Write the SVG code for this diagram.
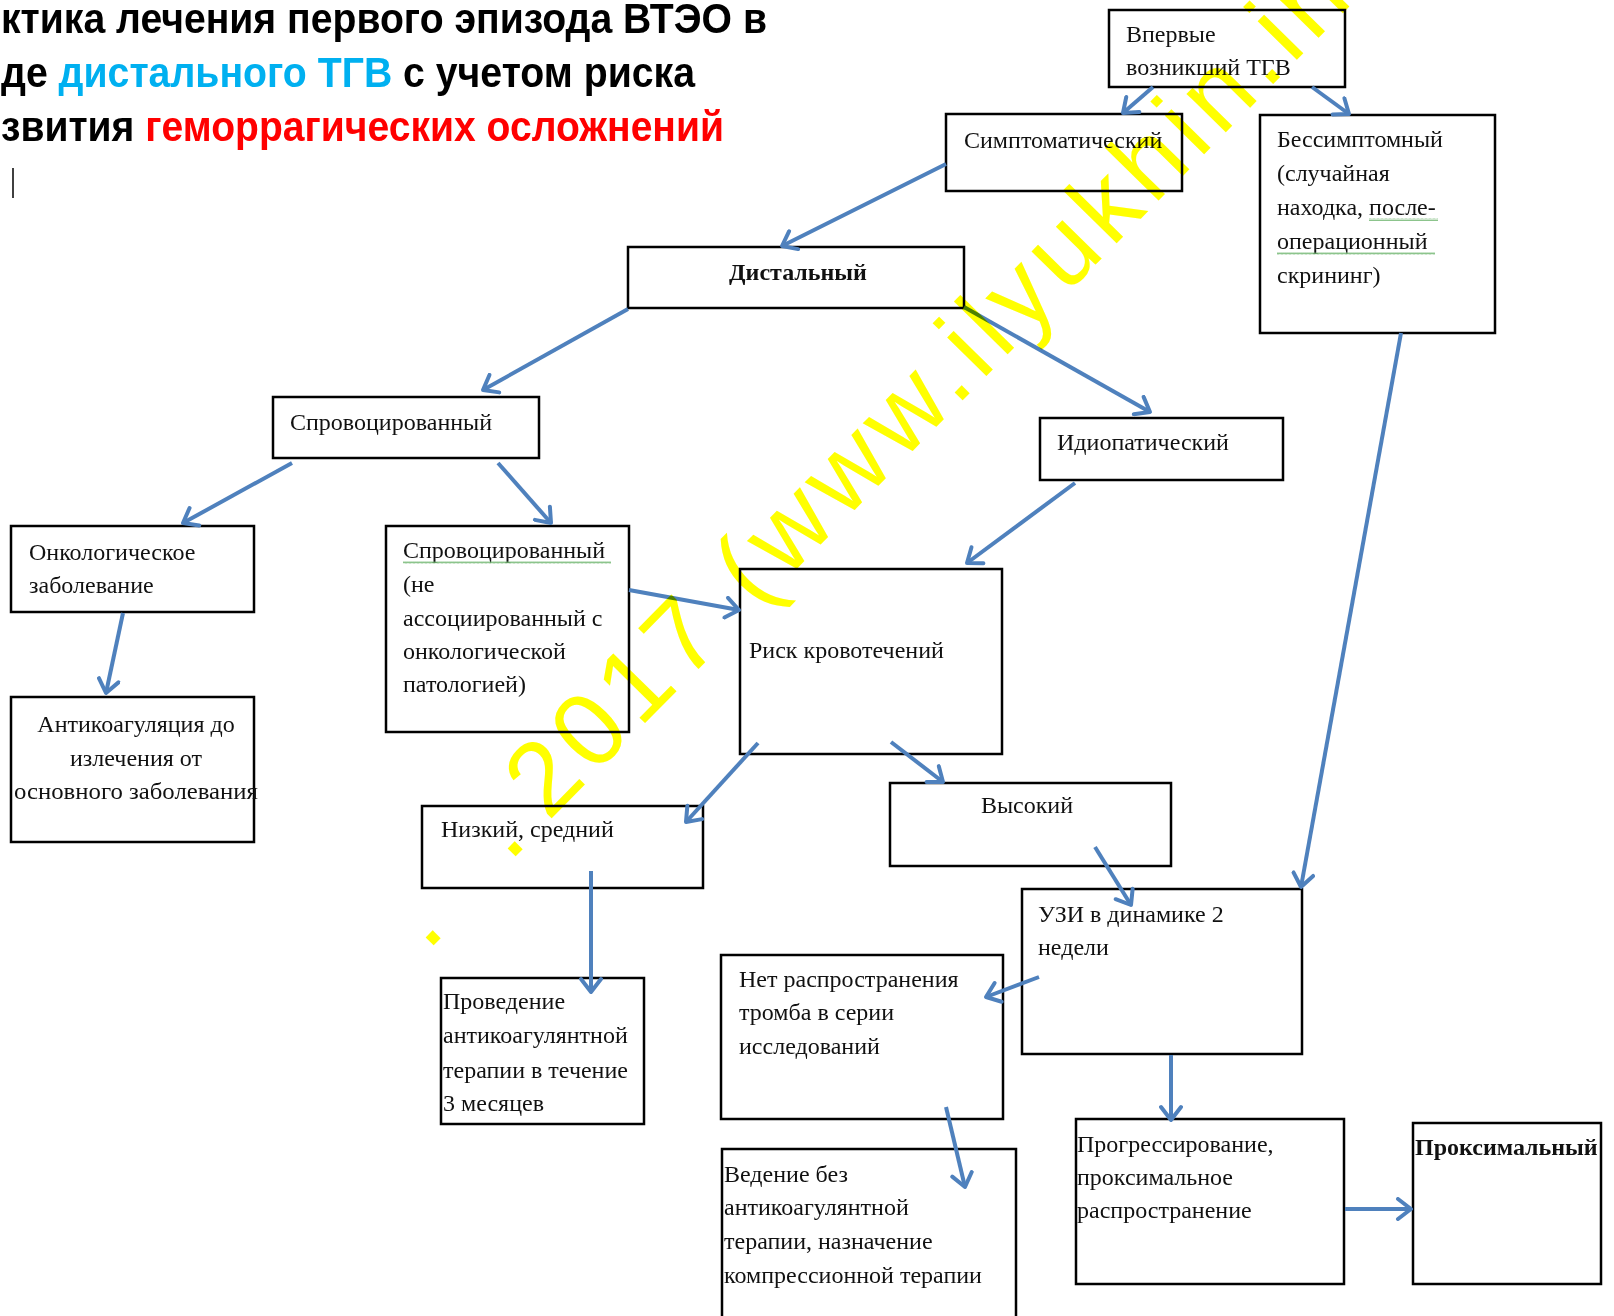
<svg xmlns="http://www.w3.org/2000/svg" width="1614" height="1316" viewBox="0 0 1614 1316">
<style>
.box{fill:#fff;stroke:#000;stroke-width:2.5}
.t{font-family:"Liberation Serif",serif;font-size:24px;fill:#111}
.b{font-weight:bold}
.c{text-anchor:middle}
.ar{stroke:#4f81bd;stroke-width:4;fill:none;marker-end:url(#ah)}
.title{font-family:"Liberation Sans",Arial,sans-serif;font-weight:bold;font-size:43px;fill:#000}
.wm{font-family:"Liberation Sans",Arial,sans-serif;fill:#ffff00;mix-blend-mode:multiply}
.sq{fill:url(#wavy)}
</style>
<defs>
<marker id="ah" markerUnits="userSpaceOnUse" markerWidth="20" markerHeight="24" viewBox="-16 -12 20 24" refX="0" refY="0" orient="auto">
<path d="M-13,-10 L0,0 L-13,10" fill="none" stroke="#4f81bd" stroke-width="4" stroke-linecap="round" stroke-linejoin="round"/>
</marker>
<pattern id="wavy" width="4" height="3" patternUnits="userSpaceOnUse">
<path d="M0,2.5 L1,0.5 L2,2.5 L3,0.5 L4,2.5" fill="none" stroke="#6fb56f" stroke-width="0.8"/>
</pattern>
</defs>
<rect width="1614" height="1316" fill="#fff"/>

<g id="title">
<text class="title" x="1" y="33" textLength="766" lengthAdjust="spacingAndGlyphs">ктика лечения первого эпизода ВТЭО в</text>
<text class="title" x="1" y="87" textLength="694" lengthAdjust="spacingAndGlyphs">де <tspan fill="#00b0f0">дистального ТГВ</tspan> с учетом риска</text>
<text class="title" x="1" y="141" textLength="723" lengthAdjust="spacingAndGlyphs">звития <tspan fill="#ff0000">геморрагических осложнений</tspan></text>
<line x1="13" y1="168" x2="13" y2="198" stroke="#000" stroke-width="1.5"/>
</g>

<g id="n-first">
<rect class="box" x="1109" y="10" width="236" height="77"/>
<text class="t" x="1126" y="42">Впервые</text>
<text class="t" x="1126" y="75">возникший ТГВ</text>
</g>
<g id="n-symptomatic">
<rect class="box" x="946" y="114" width="236" height="77"/>
<text class="t" x="964" y="148">Симптоматический</text>
</g>
<g id="n-asymptomatic">
<rect class="box" x="1260" y="115" width="235" height="218"/>
<text class="t" x="1277" y="147">Бессимптомный</text>
<text class="t" x="1277" y="181">(случайная</text>
<text class="t" x="1277" y="215">находка, после-</text>
<text class="t" x="1277" y="249">операционный</text>
<text class="t" x="1277" y="283">скрининг)</text>
<rect class="sq" x="1369" y="218" width="69" height="3"/>
<rect class="sq" x="1277" y="252" width="158" height="3"/>
</g>
<g id="n-distal">
<rect class="box" x="628" y="247" width="336" height="61"/>
<text class="t b c" x="798" y="280">Дистальный</text>
</g>
<g id="n-provoked">
<rect class="box" x="273" y="397" width="266" height="61"/>
<text class="t" x="290" y="430">Спровоцированный</text>
</g>
<g id="n-idiopathic">
<rect class="box" x="1040" y="418" width="243" height="62"/>
<text class="t" x="1057" y="450">Идиопатический</text>
</g>
<g id="n-oncology">
<rect class="box" x="11" y="526" width="243" height="86"/>
<text class="t" x="29" y="560">Онкологическое</text>
<text class="t" x="29" y="593">заболевание</text>
</g>
<g id="n-provoked-nononc">
<rect class="box" x="386" y="526" width="243" height="206"/>
<text class="t" x="403" y="558">Спровоцированный</text>
<text class="t" x="403" y="592">(не</text>
<text class="t" x="403" y="626">ассоциированный с</text>
<text class="t" x="403" y="659">онкологической</text>
<text class="t" x="403" y="692">патологией)</text>
<rect class="sq" x="403" y="561" width="208" height="3"/>
</g>
<g id="n-bleeding-risk">
<rect class="box" x="740" y="569" width="262" height="185"/>
<text class="t" x="749" y="658">Риск кровотечений</text>
</g>
<g id="n-anticoag-cure">
<rect class="box" x="11" y="697" width="243" height="145"/>
<text class="t c" x="136" y="732">Антикоагуляция до</text>
<text class="t c" x="136" y="766">излечения от</text>
<text class="t c" x="136" y="799" textLength="244" lengthAdjust="spacingAndGlyphs">основного заболевания</text>
</g>
<g id="n-low">
<rect class="box" x="422" y="806" width="281" height="82"/>
<text class="t" x="441" y="837">Низкий, средний</text>
</g>
<g id="n-high">
<rect class="box" x="890" y="783" width="281" height="83"/>
<text class="t c" x="1027" y="813">Высокий</text>
</g>
<g id="n-us">
<rect class="box" x="1022" y="889" width="280" height="165"/>
<text class="t" x="1038" y="922">УЗИ в динамике 2</text>
<text class="t" x="1038" y="955">недели</text>
</g>
<g id="n-no-spread">
<rect class="box" x="721" y="955" width="282" height="164"/>
<text class="t" x="739" y="987">Нет распространения</text>
<text class="t" x="739" y="1020">тромба в серии</text>
<text class="t" x="739" y="1054">исследований</text>
</g>
<g id="n-3months">
<rect class="box" x="441" y="978" width="203" height="146"/>
<text class="t" x="443" y="1009">Проведение</text>
<text class="t" x="443" y="1043">антикоагулянтной</text>
<text class="t" x="443" y="1078">терапии в течение</text>
<text class="t" x="443" y="1111">3 месяцев</text>
</g>
<g id="n-no-anticoag">
<rect class="box" x="722" y="1149" width="294" height="180"/>
<text class="t" x="724" y="1182">Ведение без</text>
<text class="t" x="724" y="1215">антикоагулянтной</text>
<text class="t" x="724" y="1249">терапии, назначение</text>
<text class="t" x="724" y="1283">компрессионной терапии</text>
</g>
<g id="n-progression">
<rect class="box" x="1076" y="1119" width="268" height="165"/>
<text class="t" x="1077" y="1152">Прогрессирование,</text>
<text class="t" x="1077" y="1185">проксимальное</text>
<text class="t" x="1077" y="1218">распространение</text>
</g>
<g id="n-proximal">
<rect class="box" x="1413" y="1123" width="188" height="161"/>
<text class="t b" x="1415" y="1155">Проксимальный</text>
</g>

<g id="connectors">
<line class="ar" x1="1153" y1="87" x2="1123" y2="113"/>
<line class="ar" x1="1312" y1="87" x2="1349" y2="114"/>
<line class="ar" x1="946" y1="164" x2="782" y2="246"/>
<line class="ar" x1="628" y1="309" x2="483" y2="390"/>
<line class="ar" x1="964" y1="307" x2="1150" y2="412"/>
<line class="ar" x1="292" y1="463" x2="183" y2="523"/>
<line class="ar" x1="498" y1="463" x2="551" y2="523"/>
<line class="ar" x1="123" y1="613" x2="106" y2="693"/>
<line class="ar" x1="629" y1="590" x2="739" y2="610"/>
<line class="ar" x1="1075" y1="483" x2="967" y2="563"/>
<line class="ar" x1="758" y1="743" x2="686" y2="822"/>
<line class="ar" x1="891" y1="742" x2="943" y2="782"/>
<line class="ar" x1="1095" y1="847" x2="1131" y2="905"/>
<line class="ar" x1="1401" y1="333" x2="1301" y2="887"/>
<line class="ar" x1="591" y1="871" x2="591" y2="992"/>
<line class="ar" x1="1039" y1="977" x2="986" y2="997"/>
<line class="ar" x1="946" y1="1107" x2="965" y2="1187"/>
<line class="ar" x1="1171" y1="1055" x2="1171" y2="1120"/>
<line class="ar" x1="1345" y1="1209" x2="1411" y2="1209"/>
</g>

<g id="watermark">
<text class="wm" transform="translate(427,952) rotate(-45.5)" font-size="104">.</text>
<text class="wm" transform="translate(509,863) rotate(-45.5)" font-size="104">.</text>
<text class="wm" transform="translate(548,822) rotate(-45.5)" font-size="104" textLength="1150" lengthAdjust="spacing">2017 (www.ilyukhin.in</text>
</g>
</svg>
